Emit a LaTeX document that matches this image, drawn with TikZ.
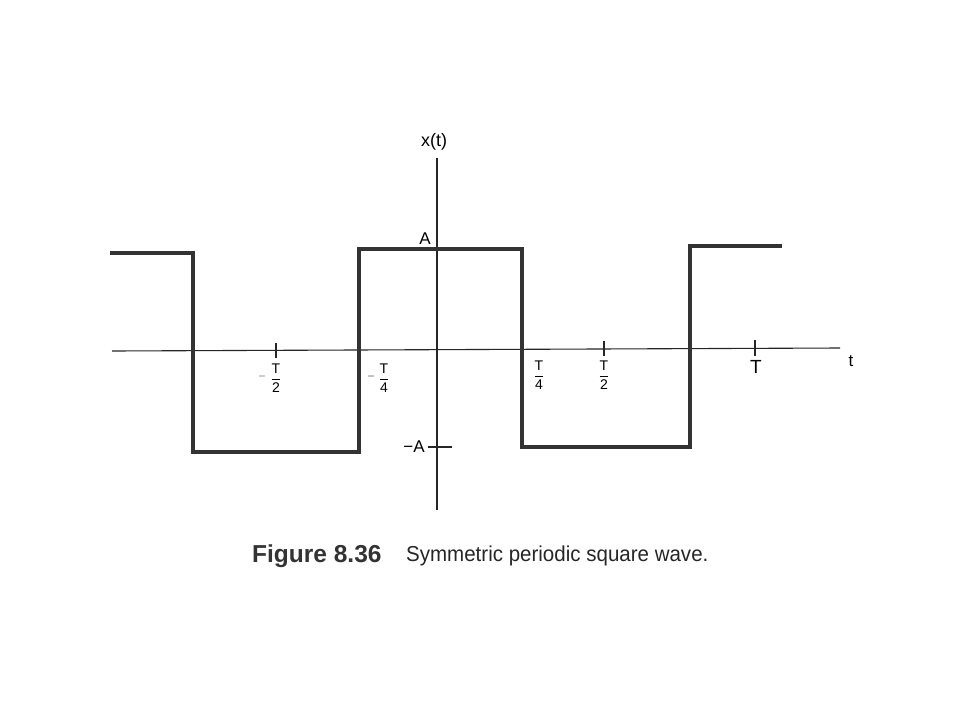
\documentclass[tikz,border=0pt]{standalone}
\usepackage{fontspec}
\setmainfont{Liberation Sans}
\begin{document}
\begin{tikzpicture}[x=1pt,y=-1pt,
  axis/.style={line width=1.1pt,black!85},
  wave/.style={line width=3.1pt,black!80,line join=miter},
  tk/.style={line width=1.1pt,black!85},
  frc/.style={inner sep=0pt,font=\fontsize{14}{14}\selectfont},
  big/.style={inner sep=0pt,font=\fontsize{17}{17}\selectfont}]
\useasboundingbox (0,0) rectangle (960,720);
\fill[white] (0,0) rectangle (960,720);
% axes
\coordinate (xl) at (112,351);
\coordinate (xr) at (840,348);
\coordinate (yt) at (437,158);
\coordinate (yb) at (437,510);
\draw[axis] (xl) -- (xr);
\draw[axis] (yt) -- (yb);
\node[big,font=\fontsize{18}{18}\selectfont] (xt) at (434,142) {x(t)};
\node[big] (tl) at (851,361) {t};
% wave
\coordinate (w0) at (110,253);
\coordinate (w1) at (193,253);
\coordinate (w2) at (193,452);
\coordinate (w3) at (359,452);
\coordinate (w4) at (359,249);
\coordinate (w5) at (522,249);
\coordinate (w6) at (522,447);
\coordinate (w7) at (690,447);
\coordinate (w8) at (690,246);
\coordinate (w9) at (782,246);
\draw[wave] (w0) -- (w1) -- (w2) -- (w3) -- (w4) -- (w5) -- (w6) -- (w7) -- (w8) -- (w9);
% A labels
\node[big] (A) at (425,239) {A};
\coordinate (ma1) at (428,447);
\coordinate (ma2) at (452,447);
\draw[tk] (ma1) -- (ma2);
\node[big] (mA) at (414,447) {\textminus A};
% ticks
\coordinate (t1a) at (276,343); \coordinate (t1b) at (276,358);
\coordinate (t2a) at (604,341); \coordinate (t2b) at (604,356);
\coordinate (t3a) at (755,340); \coordinate (t3b) at (755,356);
\draw[tk] (t1a) -- (t1b);
\draw[tk] (t2a) -- (t2b);
\draw[tk] (t3a) -- (t3b);
% tick labels
\node[frc] (mh) at (276,378) {$\displaystyle\frac{\mbox{T}}{\mbox{2}}$};
\node[inner sep=0pt,text=black!45,font=\fontsize{12}{12}\selectfont] (mhm) at (262,378) {\textminus};
\node[frc] (mq) at (384,378) {$\displaystyle\frac{\mbox{T}}{\mbox{4}}$};
\node[inner sep=0pt,text=black!55,font=\fontsize{12}{12}\selectfont] (mqm) at (371,378) {\textminus};
\node[frc] (pq) at (539,375) {$\displaystyle\frac{\mbox{T}}{\mbox{4}}$};
\node[frc] (ph) at (604,375) {$\displaystyle\frac{\mbox{T}}{\mbox{2}}$};
\node[inner sep=0pt,font=\fontsize{19}{19}\selectfont] (pT) at (756,367) {T};
% caption
\node[inner sep=0pt,anchor=west,font=\fontsize{24.5}{24.5}\selectfont\bfseries,text=black!80] (fig) at (252,556) {Figure 8.36};
\node[inner sep=0pt,anchor=west,font=\fontsize{21.6}{21.6}\selectfont,text=black!85] (cap) at (406,556) {\addfontfeature{FakeStretch=0.95}Symmetric periodic square wave.};
\end{tikzpicture}
\end{document}
